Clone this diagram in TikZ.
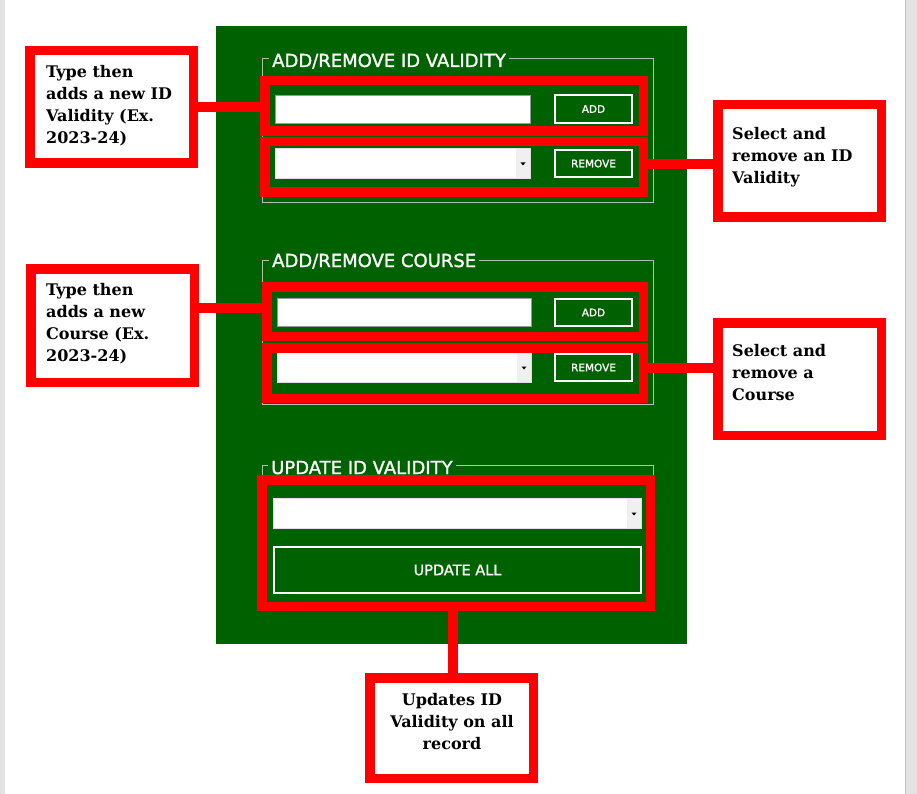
\documentclass[tikz,border=0pt]{standalone}
\usepackage{fontspec}
\usetikzlibrary{calc}
\newfontfamily\uifont{DejaVu Sans}[FakeBold=1.4]
\newfontfamily\notefont{DejaVu Serif}
\definecolor{appgreen}{RGB}{0,97,0}
\definecolor{hired}{RGB}{255,0,0}
\definecolor{framegray}{RGB}{170,196,170}
\definecolor{pagegray}{RGB}{227,227,227}
\definecolor{dropgray}{RGB}{240,240,240}
\def\uibox[#1](#2)(#3,#4)(#5,#6)#7{\node[#1, minimum width={#5-(#3)}, minimum height={#6-(#4)}] (#2) at ({(#3+#5)/2},{(#4+#6)/2}) {#7};}
\def\dropdown(#1,#2)(#3,#4){\fill[dropgray] (#1,#2) rectangle (#3,#4); \fill[black] ({(#1+#3)/2-2.5},{(#2+#4)/2-1}) -- ++(5,0) -- ++(-2.5,3) -- cycle;}
\tikzset{
	hilite/.style={draw=hired, line width=9.5pt},
	note/.style={draw=hired, line width=9.5pt, fill=white},
	notetext/.style={font=\notefont\bfseries\fontsize{16}{22}\selectfont, align=left, inner sep=0pt, anchor=north west},
	link/.style={draw=hired, line width=9.5pt},
	grpframe/.style={draw=framegray, line width=1pt},
	grptitle/.style={font=\uifont\fontsize{18}{20}\selectfont, text=white, fill=appgreen, inner xsep=3pt, inner ysep=2pt, anchor=base west},
	field/.style={draw=gray!80, fill=white, line width=1pt},
	combo/.style={draw=gray!25, fill=white, line width=1pt},
	btn/.style={draw=white, line width=2pt, fill=appgreen, text=white, font=\uifont\fontsize{10.5}{12}\selectfont, inner sep=0pt},
}

\begin{document}
\begin{tikzpicture}[x=1pt, y=-1pt]
			%%%%% START %%%%%
			
			\useasboundingbox (0,0) rectangle (917,794);
			\fill[white] (0,0) rectangle (917,794);
			\fill[pagegray] (0,0) rectangle (5,794);
			\fill[pagegray] (905,0) rectangle (917,794);
			\draw[gray!50, line width=1pt] (905.5,0) -- (905.5,794);
			
			\fill[appgreen] (216,26) rectangle (687,644);
			
			% id validity group
			\draw[grpframe] (262.5,58.5) rectangle (653.5,202.5);
			\node[grptitle] (titleA) at (269,67) {ADD/REMOVE ID VALIDITY};
			\draw[field] (275.5,95.5) rectangle (530.5,123.5);
			\uibox[btn](addA)(555,95)(632,123){ADD}
			\draw[combo] (275.5,148.5) rectangle (530.5,178.5);
			\dropdown(516,149)(530,178)
			\uibox[btn](removeA)(555,150)(632,177){REMOVE}
			
			% course group
			\draw[grpframe] (262.5,260.5) rectangle (653.5,404.5);
			\node[grptitle] (titleB) at (269,267) {ADD/REMOVE COURSE};
			\draw[field] (277.5,298.5) rectangle (531.5,326.5);
			\uibox[btn](addB)(555,299)(632,326){ADD}
			\draw[combo] (277.5,352.5) rectangle (531.5,382.5);
			\dropdown(517,353)(531,382)
			\uibox[btn](removeB)(555,354)(632,381){REMOVE}
			
			% update group
			\draw[grpframe] (262.5,465.5) rectangle (653.5,607);
			\node[grptitle] (titleC) at (268,474) {UPDATE ID VALIDITY};
			\draw[combo] (273.5,498.5) rectangle (641.5,528.5);
			\dropdown(627,499)(641,528)
			\uibox[btn, font=\uifont\fontsize{14.5}{16}\selectfont](updateAll)(274,547)(641,593){UPDATE ALL}
			
			% red highlights
			\uibox[hilite](hlA)(264.75,80.75)(643.25,131.25){}
			\uibox[hilite](hlB)(264.75,141.75)(643.25,192.25){}
			\uibox[hilite](hlC)(266.75,286.75)(643.25,336.25){}
			\uibox[hilite](hlD)(266.75,347.75)(643.25,398.25){}
			\uibox[hilite](hlE)(261.75,479.75)(650.25,606.25){}
			
			% callouts
			\uibox[note](noteA)(29.75,50.75)(193.25,163.25){}
			\node[notetext] (noteAtext) at (46,65) {Type then\\adds a new ID\\Validity (Ex.\\2023-24)};
			\uibox[note](noteB)(30.75,268.75)(194.25,382.25){}
			\node[notetext] (noteBtext) at (46,283) {Type then\\adds a new\\Course (Ex.\\2023-24)};
			\uibox[note](noteC)(717.75,104.75)(881.25,217.25){}
			\node[notetext] (noteCtext) at (732,127) {Select and\\remove an ID\\Validity};
			\uibox[note](noteD)(717.75,322.75)(881.25,435.25){}
			\node[notetext] (noteDtext) at (732,344) {Select and\\remove a\\Course};
			\uibox[note](noteE)(369.75,677.75)(533.25,778.25){}
			\node[notetext, align=center, anchor=north] (noteEtext) at (452,693) {Updates ID\\Validity on all\\record};
			
			\draw[link] (noteA.east) -- (noteA.east -| hlA.west);
			\draw[link] ([yshift=3pt]hlB.east) -- ([yshift=3pt]hlB.east -| noteC.west);
			\draw[link] ([yshift=3.5pt]hlC.west) -- ([yshift=3.5pt]hlC.west -| noteB.east);
			\draw[link] ([yshift=5pt]hlD.east) -- ([yshift=5pt]hlD.east -| noteD.west);
			\draw[link] ([xshift=-3pt]hlE.south) -- ([xshift=-3pt]hlE.south |- noteE.north);
			
			%%%%% END %%%%%
\end{tikzpicture}
\end{document}
